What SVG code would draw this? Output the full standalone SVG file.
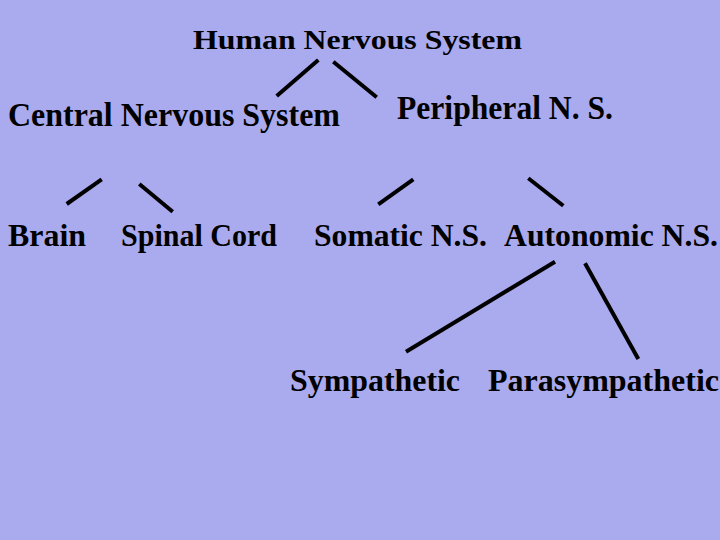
<svg xmlns="http://www.w3.org/2000/svg" width="720" height="540" viewBox="0 0 720 540">
<style>
text{font-family:"Liberation Serif","Times New Roman",serif;font-weight:bold;fill:#000}
.c line{stroke:#000;stroke-width:4;stroke-linecap:butt}
</style>
<rect width="720" height="540" fill="#AAAAEE"/>
<g id="human"><text x="193" y="49" font-size="28" textLength="329" lengthAdjust="spacingAndGlyphs">Human Nervous System</text></g>
<g id="cns"><text x="8" y="126" font-size="33" textLength="332" lengthAdjust="spacingAndGlyphs">Central Nervous System</text></g>
<g id="pns"><text x="397" y="119" font-size="33" textLength="216" lengthAdjust="spacingAndGlyphs">Peripheral N. S.</text></g>
<g id="brain"><text x="8" y="246" font-size="32" textLength="78" lengthAdjust="spacingAndGlyphs">Brain</text></g>
<g id="spinal"><text x="121" y="246" font-size="32" textLength="156" lengthAdjust="spacingAndGlyphs">Spinal Cord</text></g>
<g id="somatic"><text x="314" y="246" font-size="32" textLength="173" lengthAdjust="spacingAndGlyphs">Somatic N.S.</text></g>
<g id="autonomic"><text x="504" y="246" font-size="32" textLength="214" lengthAdjust="spacingAndGlyphs">Autonomic N.S.</text></g>
<g id="sympathetic"><text x="290" y="391" font-size="31" textLength="170" lengthAdjust="spacingAndGlyphs">Sympathetic</text></g>
<g id="parasympathetic"><text x="488" y="391" font-size="31" textLength="231" lengthAdjust="spacingAndGlyphs">Parasympathetic</text></g>
<g class="c" id="connectors">
<line x1="318.3" y1="60" x2="276.7" y2="96"/>
<line x1="333.3" y1="61.7" x2="376.7" y2="97.3"/>
<line x1="101.7" y1="179.3" x2="66.7" y2="204"/>
<line x1="139.3" y1="184" x2="172.7" y2="211.7"/>
<line x1="413.3" y1="179.3" x2="378.3" y2="204.3"/>
<line x1="528.3" y1="178.3" x2="563.3" y2="205.7"/>
<line x1="555" y1="261.7" x2="406" y2="351.7"/>
<line x1="585" y1="263.3" x2="638.3" y2="359"/>
</g>
</svg>
